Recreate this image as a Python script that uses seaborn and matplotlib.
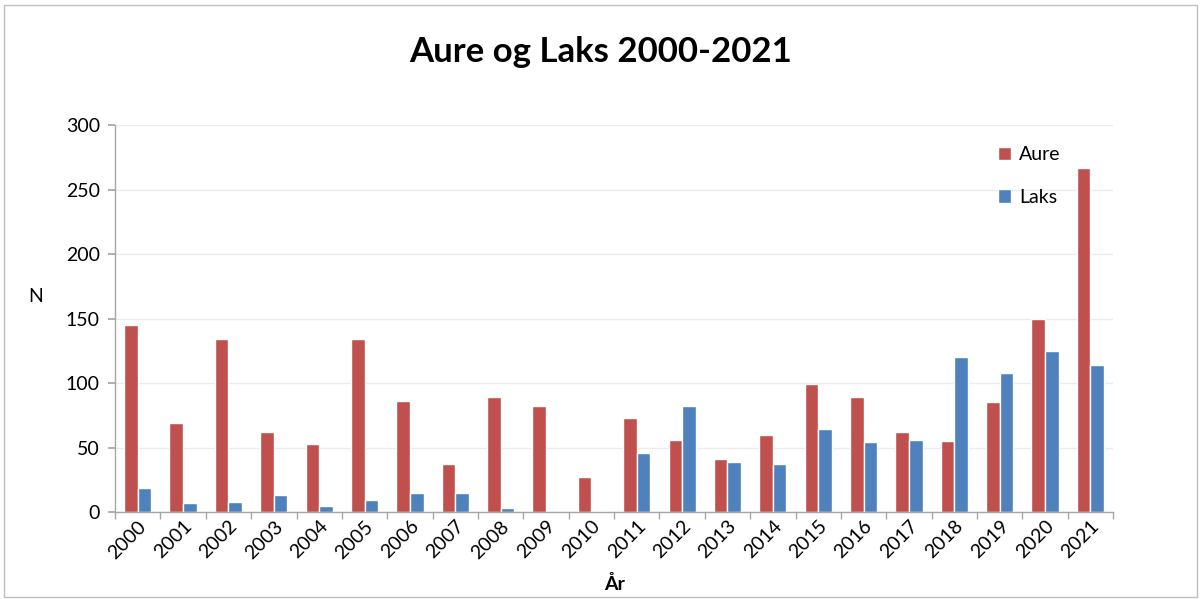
import pandas as pd
import seaborn as sns
import matplotlib.pyplot as plt
from matplotlib.patches import Rectangle
from matplotlib.ticker import FixedLocator

years = [str(y) for y in range(2000, 2022)]
aure = [145, 69, 134, 62, 53, 134, 86, 37, 89, 82, 27, 73, 56, 41, 60, 99, 89, 62, 55, 85, 150, 267]
laks = [19, 7, 8, 13, 5, 9, 15, 15, 3, 0, 1, 46, 82, 39, 37, 64, 54, 56, 120, 108, 125, 114]

df = pd.DataFrame({"År": years * 2,
                   "N": aure + laks,
                   "Art": ["Aure"] * len(years) + ["Laks"] * len(years)})

sns.set_theme(style="white")
plt.rcParams["font.family"] = ["Lato", "DejaVu Sans"]
plt.rcParams["text.color"] = "black"
plt.rcParams["axes.labelcolor"] = "black"
plt.rcParams["xtick.labelcolor"] = "black"
plt.rcParams["ytick.labelcolor"] = "black"

fig = plt.figure(figsize=(12.01, 5.99), dpi=100)
ax = fig.add_axes([0.0958, 0.1452, 0.831, 0.6461])

sns.barplot(data=df, x="År", y="N", hue="Art", palette=["#C0504D", "#4F81BD"],
            width=0.6, saturation=1, ax=ax)

ax.set_ylim(0, 300)
ax.set_xlim(-0.5, len(years) - 0.5)
ax.set_yticks(range(0, 301, 50))
ax.yaxis.grid(True, color="#EBEBEB", linewidth=1)
ax.set_axisbelow(True)
sns.despine(ax=ax)
for s in ["left", "bottom"]:
    ax.spines[s].set_color("#A6A6A6")
    ax.spines[s].set_linewidth(1)

ax.tick_params(axis="x", which="major", length=0, pad=4, labelsize=14)
ax.tick_params(axis="y", length=5, color="#A6A6A6", left=True, labelsize=14, pad=6)
ax.xaxis.set_minor_locator(FixedLocator([i - 0.5 for i in range(len(years) + 1)]))
ax.tick_params(axis="x", which="minor", length=5, color="#A6A6A6", bottom=True)
plt.setp(ax.get_xticklabels(), rotation=45, ha="right", rotation_mode="anchor")

ax.set_xlabel("År", fontsize=14, fontweight="bold", va="center")
ax.xaxis.set_label_coords(0.5, -0.185)
ax.set_ylabel("N", fontsize=14, rotation=0, va="center", ha="center")
ax.yaxis.set_label_coords(-0.08, 0.558)

fig.suptitle("Aure og Laks 2000-2021", fontsize=25, fontweight="bold", y=0.94)

leg = ax.legend(loc="upper right", bbox_to_anchor=(0.965, 0.99), frameon=False,
                fontsize=14, handlelength=0.7, handleheight=0.7, labelspacing=1.3,
                handletextpad=0.4)

fig.patches.append(Rectangle((0.003, 0.003), 0.994, 0.989, transform=fig.transFigure,
                             fill=False, edgecolor="#BFBFBF", linewidth=1))

fig.savefig("out.png", dpi=100)
